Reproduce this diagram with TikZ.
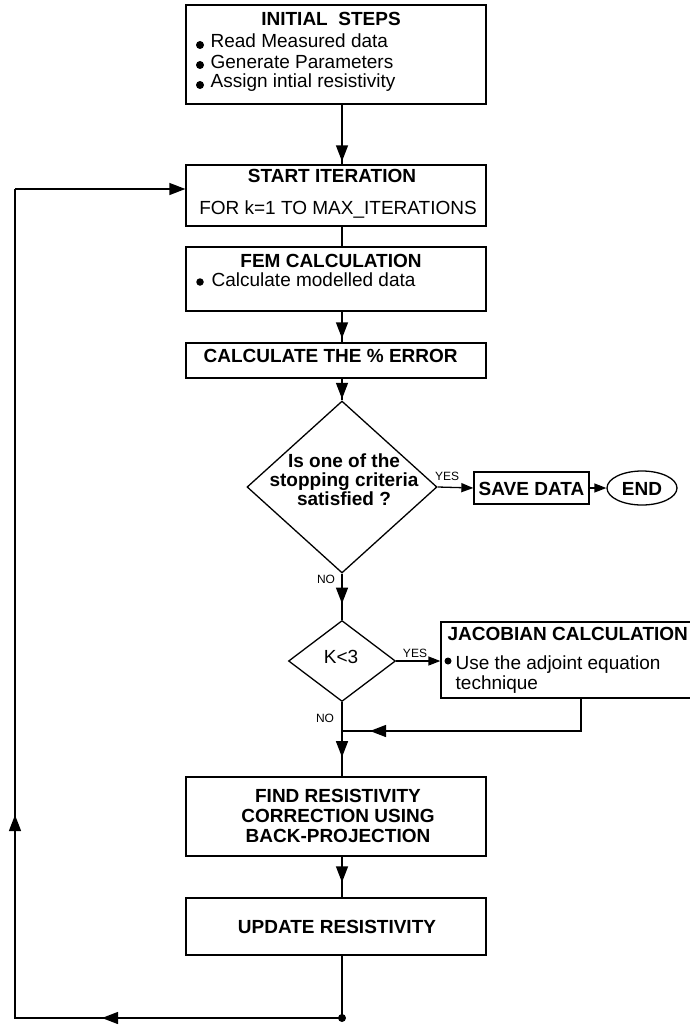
\documentclass[tikz,border=0pt]{standalone}
\usepackage{fontspec}
\setmainfont{Liberation Sans}
\usetikzlibrary{shapes.geometric,arrows.meta,calc}
\begin{document}
\begin{tikzpicture}[x=1pt,y=-1pt,line width=1.3pt,
  box/.style={draw,rectangle,inner sep=0pt,minimum width=300pt},
  lbl/.style={font=\fontsize{19}{20}\selectfont,inner sep=0pt,anchor=base},
  lbll/.style={lbl,anchor=base west},
  ttl/.style={lbl,font=\fontsize{19}{20}\selectfont\bfseries},
  ttll/.style={ttl,anchor=base west},
  tiny/.style={font=\fontsize{12}{13}\selectfont,inner sep=0pt,anchor=base},
  big/.style={-{Triangle[length=16pt,width=12pt]}},
  sml/.style={-{Triangle[length=12pt,width=9pt]}},
  bul/.style={circle,fill,inner sep=0pt,minimum size=7.5pt}]
\useasboundingbox (0,0) rectangle (690,1025);
\coordinate (col) at (342,0);
% boxes
\node[box,minimum height=99pt] (init) at (336,54.5) {};
\node[box,minimum height=61pt] (start) at (336,195.5) {};
\node[box,minimum height=64pt] (fem) at (336,279) {};
\node[box,minimum height=35pt] (calc) at (336,360.5) {};
\node[draw,diamond,inner sep=0pt,minimum width=190pt,minimum height=172pt] (d1) at (342,487) {};
\node[draw,rectangle,inner sep=0pt,minimum width=115pt,minimum height=32pt] (save) at (531.5,488) {};
\node[draw,ellipse,inner sep=0pt,minimum width=70pt,minimum height=34pt] (end) at (642,488) {};
\node[draw,diamond,inner sep=0pt,minimum width=107pt,minimum height=81pt] (d2) at (342,661) {};
\node[draw,rectangle,inner sep=0pt,minimum width=259pt,minimum height=76pt] (jac) at (570.5,660) {};
\node[box,minimum height=79pt] (find) at (336,816.5) {};
\node[box,minimum height=57pt] (upd) at (336,926.5) {};
% texts
\node[ttl] (t1) at (331,25.5) {INITIAL\ \ STEPS};
\node[bul,minimum size=8pt] (b1) at (200,45) {};
\node[lbll] (t2) at (210,48) {Read Measured data};
\node[bul,minimum size=8pt] (b2) at (200,65) {};
\node[lbll] (t3) at (210,68) {Generate Parameters};
\node[bul,minimum size=8pt] (b3) at (200,85) {};
\node[lbll] (t4) at (210,88) {Assign intial resistivity};
\node[ttl] (t5) at (332,182.5) {START ITERATION};
\node[lbl] (t6) at (338,214) {FOR k=1 TO MAX\_ITERATIONS};
\node[ttl] (t7) at (331,267) {FEM CALCULATION};
\node[bul] (b4) at (200,282) {};
\node[lbll] (t8) at (211,286) {Calculate modelled data};
\node[ttll] (t9) at (203,362.5) {CALCULATE THE \% ERROR};
\node[ttl] (t10) at (344,467) {Is one of the};
\node[ttl] (t11) at (344,486.5) {stopping criteria};
\node[ttl] (t12) at (344,505) {satisfied ?};
\node[ttl] (t13) at (531.5,495) {SAVE DATA};
\node[ttl] (t14) at (642,495) {END};
\node[tiny] (yes1) at (447,480) {YES};
\node[tiny] (no1) at (326,583) {NO};
\node[lbl] (t15) at (341,663) {K<3};
\node[tiny] (yes2) at (415,657) {YES};
\node[tiny] (no2) at (325,722) {NO};
\node[ttll] (t16) at (447,640) {JACOBIAN CALCULATION};
\node[bul,minimum size=7pt] (b5) at (448,661) {};
\node[lbll] (t17) at (455,669) {Use the adjoint equation};
\node[lbll] (t18) at (455,689) {technique};
\node[ttl] (t19) at (338,802) {FIND RESISTIVITY};
\node[ttl] (t20) at (338,822) {CORRECTION USING};
\node[ttl] (t21) at (338,842) {BACK-PROJECTION};
\node[ttl] (t22) at (337,933) {UPDATE RESISTIVITY};
% connectors
\draw (init.south -| col) -- (start.north -| col);
\draw[big] (init.south -| col) -- ($(start.north -| col)+(0,-3)$);
\draw (start.south -| col) -- (fem.north -| col);
\draw (fem.south -| col) -- (calc.north -| col);
\draw[big] (fem.south -| col) -- ($(calc.north -| col)+(0,-4)$);
\draw (calc.south -| col) -- (d1.north);
\draw[big] (calc.south -| col) -- ($(d1.north)+(0,-1.5)$);
\draw[sml] (d1.east) -- (save.west);
\draw[sml] (save.east) -- (end.west);
\draw (d1.south) -- (d2.north);
\draw[big] (d1.south) -- ($(d1.south)+(0,30)$);
\draw[sml] (d2.east) -- (jac.west |- d2.east);
\coordinate (jx) at (581,731);
\coordinate (jn) at (342,731);
\draw (jac.south -| jx) -- (jx) -- (jn);
\draw[big] (jx) -- ($(jn)+(28,0)$);
\draw (d2.south) -- (find.north -| col);
\draw[big] (d2.south) -- ($(d2.south)+(0,55)$);
\draw (find.south -| col) -- (upd.north -| col);
\draw[big] (find.south -| col) -- ($(upd.north -| col)+(0,-15)$);
\node[bul,minimum size=8pt] (dot) at (342,1018) {};
\coordinate (c1) at (15,1018);
\coordinate (c2) at (15,189);
\draw (upd.south -| col) -- (dot.center);
\draw (dot.center) -- (c1) -- (c2);
\draw[big] (dot.center) -- ($(c1)+(87,0)$);
\draw[big] (c1) -- ($(c1)+(0,-203)$);
\draw[big] (c2) -- ($(start.west)+(0,-6.5)$);
\end{tikzpicture}
\end{document}
